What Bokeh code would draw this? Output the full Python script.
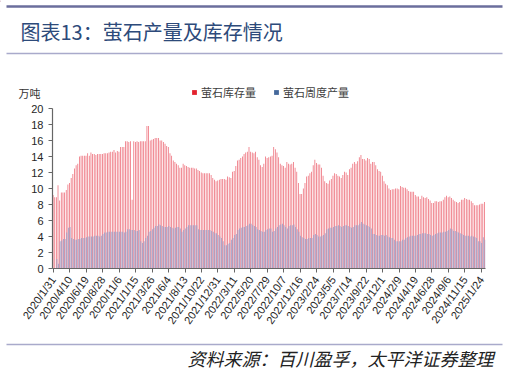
import math
import numpy as np
from bokeh.plotting import figure
from bokeh.models import ColumnDataSource, Range1d, FixedTicker, Legend, LegendItem
from bokeh.layouts import column, row
from bokeh.embed import file_html
from bokeh.resources import INLINE
from bokeh.core.properties import value

# ---- data (万吨), weekly from 2020/1/31 ----
stock_part1 = [9.2, 8.9, 8.9, 10.4, 8.5, 9.5, 9.5, 9.5, 9.8, 10.5, 10.7, 11.3, 11.8, 12.5, 12.9, 13.1,
               14.0, 14.1, 14.1, 14.1, 14.1, 14.4, 14.1, 14.5, 14.3, 14.3, 14.2, 14.3, 14.3, 14.3, 14.3,
               14.4, 14.4, 14.4, 14.5, 14.6, 14.6, 14.8, 14.5, 14.7, 14.6, 15.2, 15.2]
stock_part2 = [15.2, 15.9, 15.9, 15.8, 15.9, 8.6, 15.9, 15.8, 15.9, 15.8, 15.9, 15.9, 15.9, 15.9, 17.8,
               17.8, 16.0, 16.1, 16.2, 16.3, 16.3, 16.3, 16.0, 16.0, 15.8, 15.6, 15.3, 15.2, 14.4, 14.1,
               13.5, 13.3, 13.1, 12.9, 12.6, 12.6, 13.1, 12.9, 12.8, 12.7, 12.6, 12.6, 12.6, 12.5]
stock_part3 = [12.5, 12.3, 12.2, 12.0, 11.9, 11.9, 11.9, 11.9, 11.9, 11.7, 11.3, 11.1, 10.9, 11.0, 11.1,
               11.2, 11.2, 11.2, 11.1, 11.5, 11.4, 11.3, 12.1, 12.2, 12.8, 13.5, 13.6, 13.8, 14.0, 14.3,
               14.5, 14.6, 15.2, 14.6, 14.5, 14.4, 14.6, 13.9, 13.6, 12.9, 12.7, 13.1, 14.0, 13.8]
stock_part4 = [13.9, 14.0, 14.1, 15.2, 14.9, 14.5, 13.9, 13.1, 12.9, 12.8, 12.6, 13.3, 13.1, 13.0, 13.1,
               13.3, 12.6, 12.1, 10.7, 9.3, 9.3, 10.0, 10.7, 11.5, 11.6, 11.9, 12.1, 12.9, 13.6, 13.2,
               13.0, 13.0, 12.6, 11.6, 10.9, 10.7, 10.6, 11.0, 11.2, 11.6, 11.9, 11.8, 11.6, 11.5]
stock_part5 = [11.3, 11.7, 12.1, 12.0, 11.7, 12.4, 12.6, 13.1, 13.3, 13.1, 13.4, 13.9, 14.2, 13.7, 13.7,
               13.5, 13.8, 13.7, 13.1, 13.3, 13.3, 12.9, 12.4, 12.2, 12.1, 11.6, 10.9, 10.6, 10.4, 10.0,
               9.8, 9.9, 9.9, 10.0, 10.0, 9.9, 10.3, 10.2, 10.1, 10.1, 9.9, 9.7, 9.6, 9.6]
stock_part6 = [9.6, 9.2, 9.0, 9.0, 8.7, 9.1, 8.9, 8.8, 8.9, 8.7, 8.5, 8.2, 8.2, 8.4, 8.4, 8.3, 8.4, 8.4,
               8.6, 8.9, 9.1, 8.9, 9.0, 8.8, 8.6, 8.4, 8.3, 8.2, 8.3, 8.6, 8.6, 8.8, 8.7, 8.6, 8.6, 8.4,
               8.2, 7.9, 7.9, 7.9, 8.0, 8.1, 8.1, 8.3]

output_part1 = [0, 0, 1.2, 0.6, 3.4, 3.5, 3.7, 3.7, 4.5, 5.1, 5.2, 3.8, 3.7, 3.6, 3.6, 3.7, 3.7, 3.8, 3.8,
                3.8, 3.9, 4.0, 4.0, 4.0, 4.0, 4.1, 4.1, 4.1, 4.0, 4.1, 4.3, 4.5, 4.5, 4.6, 4.6, 4.6, 4.6,
                4.6, 4.6, 4.6, 4.6, 4.6, 4.6]
output_part2 = [4.5, 4.6, 4.9, 4.9, 4.8, 4.8, 4.8, 4.7, 4.7, 4.8, 3.4, 3.2, 3.4, 3.8, 4.1, 4.6, 4.7, 4.9,
                5.1, 5.3, 5.3, 5.5, 5.4, 5.3, 5.2, 5.2, 5.2, 5.3, 5.2, 5.1, 5.0, 5.1, 5.2, 5.2, 5.0, 4.6,
                4.8, 5.0, 5.2, 5.4, 5.4, 5.4, 5.4, 5.4]
output_part3 = [5.4, 4.9, 4.8, 4.8, 4.8, 4.8, 4.8, 4.8, 4.8, 4.7, 4.6, 4.4, 4.4, 4.2, 4.0, 3.8, 3.4, 2.9,
                2.9, 3.1, 3.2, 3.6, 3.8, 4.2, 4.3, 4.8, 5.0, 5.1, 5.2, 5.2, 5.3, 5.4, 5.6, 5.6, 5.4, 5.3,
                5.2, 4.9, 4.8, 4.7, 4.6, 4.6, 4.8, 4.9]
output_part4 = [5.0, 5.0, 4.6, 4.7, 5.0, 5.2, 5.4, 5.5, 5.6, 5.4, 5.2, 5.0, 5.3, 5.4, 5.4, 5.5, 5.2, 4.9,
                4.6, 4.1, 3.9, 3.8, 3.7, 3.7, 3.8, 3.8, 3.8, 4.2, 4.3, 4.2, 4.0, 4.0, 4.1, 4.2, 4.4, 4.9,
                5.0, 5.1, 5.1, 5.2, 5.3, 5.3, 5.4, 5.3]
output_part5 = [5.2, 5.3, 5.4, 5.4, 5.3, 5.2, 5.1, 5.2, 5.4, 5.4, 5.4, 5.6, 5.8, 5.6, 5.5, 5.4, 5.3, 5.2,
                5.0, 4.3, 4.3, 4.2, 4.1, 4.1, 4.2, 4.2, 4.1, 4.2, 4.0, 3.9, 3.8, 3.8, 3.6, 3.4, 3.4, 3.4,
                3.4, 3.6, 3.6, 3.8, 3.9, 4.0, 4.1, 4.1]
output_part6 = [4.1, 4.1, 4.2, 4.3, 4.3, 4.4, 4.4, 4.4, 4.3, 4.3, 4.2, 4.1, 4.2, 4.3, 4.4, 4.5, 4.5, 4.5,
                4.6, 4.6, 4.7, 4.8, 5.0, 4.9, 4.7, 4.7, 4.6, 4.5, 4.4, 4.3, 4.2, 4.1, 4.1, 4.1, 4.0, 4.1,
                4.0, 3.9, 3.8, 3.4, 3.4, 3.2, 3.9, 3.6]

tick_labels = ["2020/1/31", "2020/4/10", "2020/6/19", "2020/8/28", "2020/11/6", "2021/1/15",
               "2021/3/26", "2021/6/4", "2021/8/13", "2021/10/22", "2021/12/31", "2022/3/11",
               "2022/5/20", "2022/7/29", "2022/10/7", "2022/12/16", "2023/2/24", "2023/5/5",
               "2023/7/14", "2023/9/22", "2023/12/1", "2024/2/9", "2024/4/19", "2024/6/28",
               "2024/9/6", "2024/11/15", "2025/1/24"]
y_ticks = [0, 2, 4, 6, 8, 10, 12, 14, 16, 18, 20]

series_names = ["萤石库存量", "萤石周度产量"]
title_text = "图表13：萤石产量及库存情况"
unit_text = "万吨"
source_text = "资料来源：百川盈孚，太平洋证券整理"

stock = stock_part1 + stock_part2 + stock_part3 + stock_part4 + stock_part5 + stock_part6
output = output_part1 + output_part2 + output_part3 + output_part4 + output_part5 + output_part6
weeks = np.arange(len(stock))
tick_weeks = [i * 10 for i in range(len(tick_labels))]

CJK = "Noto Sans CJK SC"
W = 507
RED, BLUE = "#E3222E", "#44689B"

# ---- header (title, rules, unit, legend) ----
top = figure(width=W, height=100, output_backend="svg", toolbar_location=None,
             x_range=Range1d(0, W), y_range=Range1d(100, 0),
             x_axis_location=None, y_axis_location=None, min_border=0)
top.outline_line_color = None
top.grid.visible = False
top.segment(x0=[6], y0=[6], x1=[502], y1=[6], line_width=2.5, line_color="#6B6E9C")
top.segment(x0=[6], y0=[53], x1=[502], y1=[53], line_width=1.5, line_color="#A9AACB")
top.text(x=[20], y=[31], text=[title_text], text_font=value(CJK), text_font_size=value("20px"),
         text_color="#2D4A7A", text_baseline="middle", text_align="left")
top.text(x=[18], y=[92], text=[unit_text], text_font=value(CJK), text_font_size=value("11px"),
         text_color="#333333", text_baseline="middle", text_align="left")
# legend swatch renderers (their single bar lies outside the visible range)
swatch = ColumnDataSource(dict(x=[-100], top=[1]))
r_leg1 = top.vbar(x="x", top="top", width=1, source=swatch, fill_color=RED, line_color=None)
r_leg2 = top.vbar(x="x", top="top", width=1, source=swatch, fill_color=BLUE, line_color=None)
legend = Legend(items=[LegendItem(label=series_names[0], renderers=[r_leg1]),
                       LegendItem(label=series_names[1], renderers=[r_leg2])],
                orientation="horizontal", location=(191, 0), padding=0, margin=0,
                spacing=17, label_standoff=4, glyph_width=6, glyph_height=6, label_height=12,
                label_text_font=CJK, label_text_font_size="11px", label_text_color="#404040",
                border_line_color=None, background_fill_alpha=0)
top.add_layout(legend, "center")

# ---- main chart ----
p = figure(width=W, height=236, output_backend="svg", toolbar_location=None,
           x_range=Range1d(-0.5, len(stock) - 0.5), y_range=Range1d(0, 20),
           min_border_left=52, min_border_right=22, min_border_top=8, min_border_bottom=68)
p.outline_line_color = None
p.grid.visible = False

src = ColumnDataSource(dict(xs=weeks - 0.15, xo=weeks + 0.15, stock=stock, output=output))
p.vbar(x="xs", top="stock", width=0.5, source=src, fill_color="#EE7580", line_color=None)
p.vbar(x="xo", top="output", width=0.5, source=src, fill_color="#9AA0CA", line_color=None)

for ax in (p.xaxis, p.yaxis):
    ax.axis_line_color = "#666666"
    ax.axis_line_width = 1.2
    ax.major_tick_line_color = "#666666"
    ax.major_tick_out = 4
    ax.major_tick_in = 0
    ax.minor_tick_out = 0
    ax.minor_tick_in = 0
    ax.major_label_text_font = "Liberation Sans"
    ax.major_label_text_color = "#262626"

p.xaxis.ticker = FixedTicker(ticks=tick_weeks)
p.xaxis.major_label_overrides = {w: l for w, l in zip(tick_weeks, tick_labels)}
p.xaxis.major_label_orientation = math.radians(55)
p.xaxis.major_label_text_font_size = "11px"
p.xaxis.major_label_standoff = 5
p.yaxis.ticker = FixedTicker(ticks=y_ticks)
p.yaxis.major_label_text_font_size = "11px"
p.yaxis.major_label_standoff = 5

# ---- footer (rule and source) ----
bot = figure(width=W, height=35, output_backend="svg", toolbar_location=None,
             x_range=Range1d(0, W), y_range=Range1d(35, 0),
             x_axis_location=None, y_axis_location=None, min_border=0)
bot.outline_line_color = None
bot.grid.visible = False
bot.segment(x0=[6], y0=[8], x1=[502], y1=[8], line_width=1.5, line_color="#A9AACB")
bot.text(x=[493], y=[21], text=[source_text], text_font=value(CJK), text_font_size=value("18px"),
         text_font_style="italic", text_color="#222222", text_baseline="middle", text_align="right")

layout = column(top, row(p), bot, spacing=0)
open("out.html", "w").write(file_html(layout, INLINE))
